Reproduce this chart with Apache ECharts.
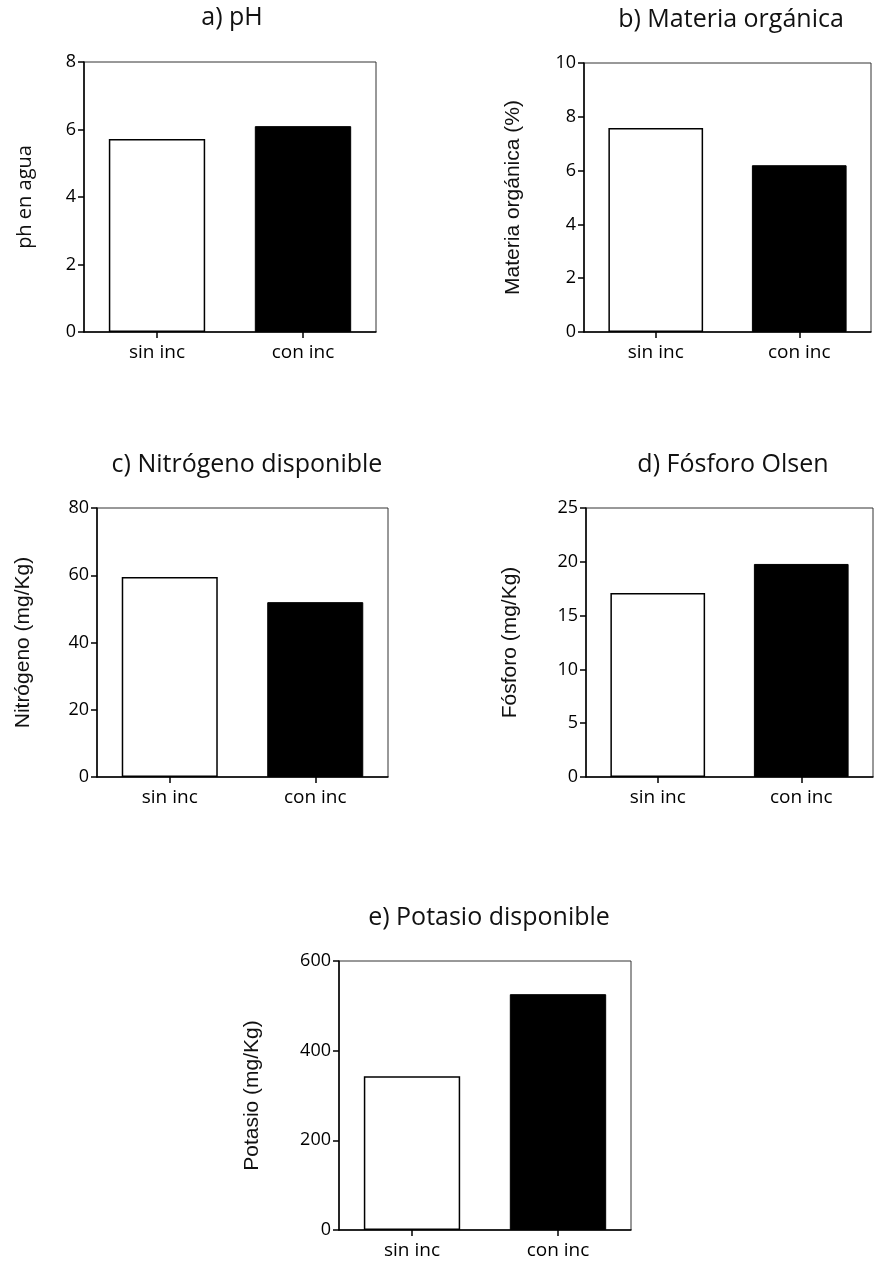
<!DOCTYPE html>
<html>
<head>
<meta charset="utf-8">
<script src="https://cdn.jsdelivr.net/npm/echarts@6/dist/echarts.min.js"></script>
<style>
html,body{margin:0;padding:0;background:#fff;}
#chart{width:874px;height:1262px;}
</style>
</head>
<body>
<div id="chart"></div>
<script>
// ---- data ----
const categories = ['sin inc', 'con inc'];
const phValues = [5.72, 6.10];
const moValues = [7.58, 6.20];
const nValues = [59.5, 52.0];
const pValues = [17.1, 19.8];
const kValues = [343, 526];

const titles = ['a) pH', 'b) Materia orgánica', 'c) Nitrógeno disponible', 'd) Fósforo Olsen', 'e) Potasio disponible'];
const yNames = ['ph en agua', 'Materia orgánica (%)', 'Nitrógeno (mg/Kg)', 'Fósforo (mg/Kg)', 'Potasio (mg/Kg)'];
const yMax = [8, 10, 80, 25, 600];
const yInterval = [2, 2, 20, 5, 200];
const allValues = [phValues, moValues, nValues, pValues, kValues];

// ---- layout ----
const grids = [
  {left: 84, top: 62, width: 292, height: 270},
  {left: 584, top: 63, width: 287, height: 269},
  {left: 97, top: 508, width: 291, height: 269},
  {left: 586, top: 508, width: 287, height: 269},
  {left: 339, top: 961, width: 292, height: 269}
];
const titlePos = [[227, 0], [726, 2], [242, 447], [728, 447], [484, 900]];
const nameGaps = [49, 60, 63, 65, 76];
const nameFonts = ['Open Sans', 'Liberation Sans', 'Liberation Sans', 'Liberation Sans', 'Liberation Sans'];
const nameSizes = [20, 21, 21, 21, 21];

const tickFont = 'Open Sans';
const chart = echarts.init(document.getElementById('chart'), null, {renderer: 'canvas'});

const option = {
  backgroundColor: '#fff',
  animation: false,
  title: titles.map((t, i) => ({
    text: t,
    left: titlePos[i][0],
    top: titlePos[i][1],
    textAlign: 'center',
    textStyle: {fontFamily: tickFont, fontSize: 25, fontWeight: 'normal', color: '#111'}
  })),
  grid: grids.map(g => Object.assign({show: true, borderColor: '#333', borderWidth: 1, backgroundColor: 'transparent', containLabel: false}, g)),
  xAxis: grids.map((g, i) => ({
    type: 'category',
    gridIndex: i,
    data: categories,
    axisLine: {show: true, lineStyle: {color: '#000', width: 1.5}},
    axisTick: {show: true, alignWithLabel: true, length: 6, lineStyle: {color: '#000', width: 1.5}},
    axisLabel: {fontFamily: tickFont, fontSize: 19, color: '#000', margin: 11},
    splitLine: {show: false}
  })),
  yAxis: grids.map((g, i) => ({
    type: 'value',
    gridIndex: i,
    min: 0,
    max: yMax[i],
    interval: yInterval[i],
    name: yNames[i],
    nameLocation: 'middle',
    nameGap: nameGaps[i],
    nameRotate: 90,
    nameTextStyle: {fontFamily: nameFonts[i], fontSize: nameSizes[i], color: '#111'},
    axisLine: {show: true, lineStyle: {color: '#000', width: 1.5}},
    axisTick: {show: true, length: 6, lineStyle: {color: '#000', width: 1.5}},
    axisLabel: {fontFamily: tickFont, fontSize: 18, color: '#000', margin: 8},
    splitLine: {show: false}
  })),
  series: allValues.map((vals, i) => ({
    type: 'bar',
    xAxisIndex: i,
    yAxisIndex: i,
    barWidth: '66%',
    data: vals.map((v, j) => ({
      value: v,
      itemStyle: j === 0
        ? {color: '#fff', borderColor: '#000', borderWidth: 1.5}
        : {color: '#000', borderColor: '#000', borderWidth: 1}
    }))
  }))
};
chart.setOption(option);
</script>
</body>
</html>
